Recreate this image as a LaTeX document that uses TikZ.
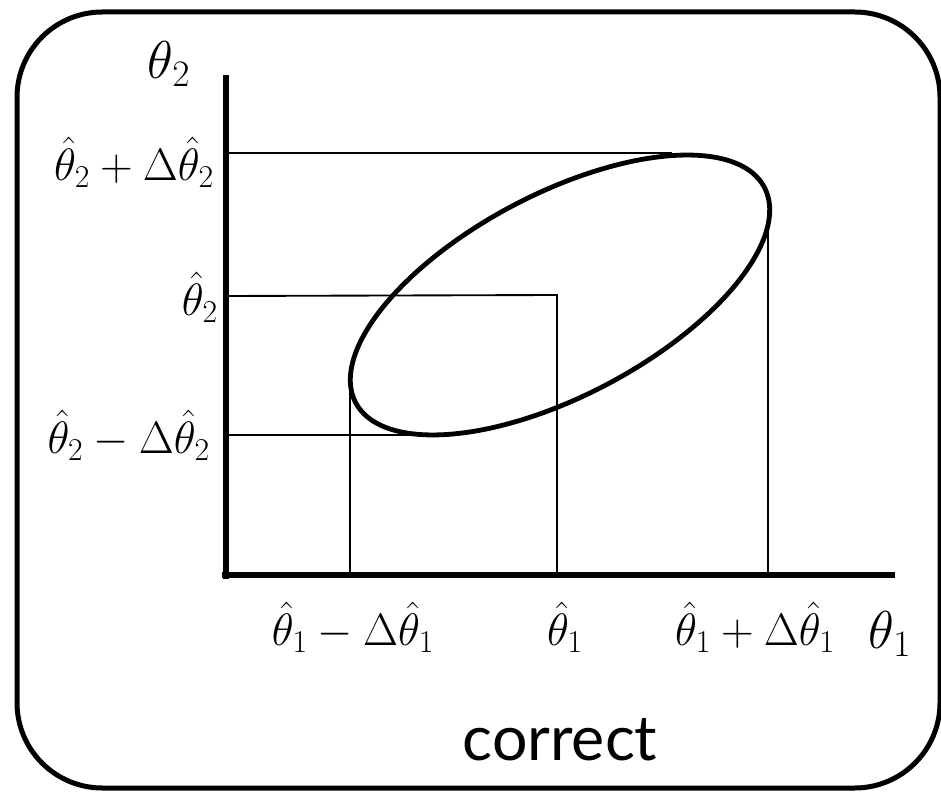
\RequirePackage{fix-cm}
\documentclass[tikz,border=0pt]{standalone}
\usepackage{fontspec}
\newfontfamily\labelsans{Lato}
\begin{document}
\begin{tikzpicture}[x=0.75pt,y=0.75pt,
  frame/.style={line width=3.75pt,rounded corners=64pt},
  axisline/.style={line width=5pt},
  guide/.style={line width=1.4pt},
  curve/.style={line width=3.6pt},
  ticklab/.style={inner sep=0pt,font=\fontsize{34}{40}\selectfont},
  axislab/.style={inner sep=0pt,font=\fontsize{40}{48}\selectfont},
  caption/.style={inner sep=0pt,font=\labelsans\fontsize{47}{56}\selectfont}]
\useasboundingbox (0,0) rectangle (941,793);
\draw[frame] (17,5) rectangle (940,781);
% axes
\coordinate (O) at (226,218);
\coordinate (ytop) at (226,718);
\coordinate (xend) at (895,218);
\draw[axisline] (226,214) -- (ytop);
\draw[axisline] (222,218) -- (xend);
% guide lines
\coordinate (yp) at (226,640);
\coordinate (ypE) at (672,640);
\coordinate (yc) at (226,497);
\coordinate (C) at (557,498);
\coordinate (ym) at (226,358);
\coordinate (ymE) at (432,358);
\coordinate (xm) at (350,218);
\coordinate (xmE) at (350,418);
\coordinate (xc) at (557,218);
\coordinate (xp) at (768,218);
\coordinate (xpE) at (768,583);
\draw[guide] (yp) -- (ypE);
\draw[guide] (yc) -- (C) -- (xc);
\draw[guide] (ym) -- (ymE);
\draw[guide] (xm) -- (xmE);
\draw[guide] (xp) -- (xpE);
% ellipse
\draw[curve] plot[domain=0:360,samples=181,smooth cycle]
  ({560+231*cos(\x)*cos(27.8)-101*sin(\x)*sin(27.8)},
   {498+231*cos(\x)*sin(27.8)+101*sin(\x)*cos(27.8)});
% labels
\node[axislab] (t2) at (169,729) {$\theta_2$};
\node[axislab] (t1) at (890,159) {$\theta_1$};
\node[ticklab,anchor=east] (lyp) at (214,631) {$\hat\theta_2+\Delta\hat\theta_2$};
\node[ticklab,anchor=east] (lyc) at (218,496) {$\hat\theta_2$};
\node[ticklab,anchor=east] (lym) at (210,358) {$\hat\theta_2-\Delta\hat\theta_2$};
\node[ticklab] (lxm) at (353,166) {$\hat\theta_1-\Delta\hat\theta_1$};
\node[ticklab] (lxc) at (565,166) {$\hat\theta_1$};
\node[ticklab] (lxp) at (755,166) {$\hat\theta_1+\Delta\hat\theta_1$};
\node[caption] (cap) at (560,53) {correct};
\end{tikzpicture}
\end{document}
